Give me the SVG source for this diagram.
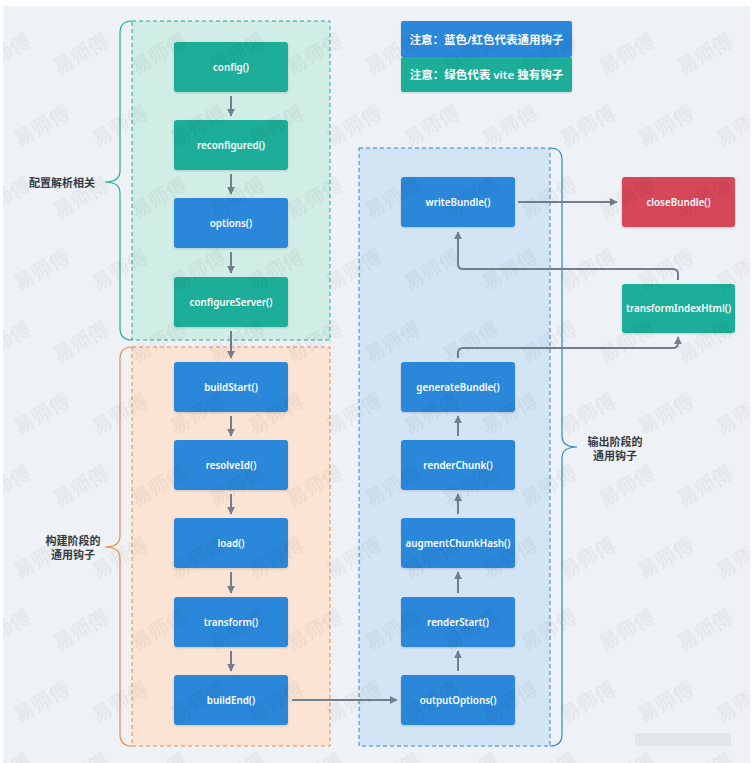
<svg xmlns="http://www.w3.org/2000/svg" width="755" height="763" viewBox="0 0 755 763">
<style>
.nt{font-family:"Noto Sans","Noto Sans CJK SC",sans-serif;font-size:9.8px;font-weight:600;fill:#ffffff;text-anchor:middle;dominant-baseline:central}
.lt{font-family:"Noto Sans","Noto Sans CJK SC",sans-serif;font-size:11.5px;font-weight:600;fill:#ffffff;text-anchor:middle;dominant-baseline:central}
.gt{font-family:"Noto Sans","Noto Sans CJK SC",sans-serif;font-size:11px;font-weight:600;fill:#333a42;text-anchor:middle;dominant-baseline:central}
.blue{fill:#2b87da}
.green{fill:#1aae99}
.red{fill:#d6475a}
.node{filter:url(#sh)}
.con{fill:none;stroke:#737f8c;stroke-width:2;marker-end:url(#ah)}
.wm{font-family:"Noto Sans CJK SC",sans-serif;font-size:20px;font-weight:700;fill:#000;fill-opacity:0.045;text-anchor:middle;dominant-baseline:central}
</style>
<defs>
<marker id="ah" viewBox="0 0 10 10" refX="9" refY="5" markerWidth="8" markerHeight="8" markerUnits="userSpaceOnUse" orient="auto">
<path d="M0,0 L10,5 L0,10 z" fill="#737f8c"/>
</marker>
<filter id="sh" x="-10%" y="-10%" width="120%" height="130%">
<feDropShadow dx="0" dy="1" stdDeviation="1" flood-color="#000" flood-opacity="0.15"/>
</filter>
<pattern id="wmp" patternUnits="userSpaceOnUse" x="567" y="377" width="78" height="144">
<text class="wm" transform="translate(20,36) rotate(-30)">易师傅</text>
<text class="wm" transform="translate(98,36) rotate(-30)">易师傅</text>
<text class="wm" transform="translate(-58,36) rotate(-30)">易师傅</text>
<text class="wm" transform="translate(59,108) rotate(-30)">易师傅</text>
<text class="wm" transform="translate(-19,108) rotate(-30)">易师傅</text>
<text class="wm" transform="translate(137,108) rotate(-30)">易师傅</text>
<text class="wm" transform="translate(59,-36) rotate(-30)">易师傅</text>
<text class="wm" transform="translate(-19,-36) rotate(-30)">易师傅</text>
<text class="wm" transform="translate(20,180) rotate(-30)">易师傅</text>
<text class="wm" transform="translate(98,180) rotate(-30)">易师傅</text>
</pattern>
</defs>

<rect x="0" y="0" width="755" height="763" fill="#ffffff"/>
<rect x="3" y="6" width="747" height="757" fill="#eef2f6"/>

<g id="groups">
<rect id="grp-config" x="132" y="21" width="198" height="319" fill="#d0ede6" stroke="#1aae99" stroke-width="1" stroke-dasharray="4,3"/>
<rect id="grp-build" x="132" y="347" width="198" height="399" fill="#fbe4d3" stroke="#ef8a3b" stroke-width="1" stroke-dasharray="4,3"/>
<rect id="grp-output" x="359" y="148" width="191" height="598" fill="#d3e5f5" stroke="#2b87da" stroke-width="1" stroke-dasharray="4,3"/>
</g>

<g id="braces" fill="none" stroke-width="1.2">
<path stroke="#1aae99" d="M132 21 Q120 21 120 33 V171 Q120 182 105 182 Q120 182 120 193 V328 Q120 340 132 340"/>
<path stroke="#ef8a3b" d="M132 347 Q120 347 120 359 V536 Q120 547 105 547 Q120 547 120 558 V734 Q120 746 132 746"/>
<path stroke="#2b87da" d="M550 148 Q562 148 562 160 V436 Q562 447 577 447 Q562 447 562 458 V734 Q562 746 550 746"/>
</g>

<g id="labels">
<text class="gt" x="62" y="182">配置解析相关</text>
<text class="gt" x="73" y="540">构建阶段的</text>
<text class="gt" x="73" y="554">通用钩子</text>
<text class="gt" x="615" y="441">输出阶段的</text>
<text class="gt" x="615" y="455">通用钩子</text>
</g>

<g id="legend">
<g id="legend-blue"><rect class="blue node" x="401" y="21" width="171" height="36" rx="2"/><text class="lt" x="486.5" y="39">注意：蓝色/红色代表通用钩子</text></g>
<g id="legend-green"><rect class="green node" x="401" y="57" width="171" height="35" rx="2"/><text class="lt" x="486.5" y="74.5">注意：绿色代表 vite 独有钩子</text></g>
</g>

<g id="connectors">
<path class="con" d="M231 96 V116"/>
<path class="con" d="M231 174 V194"/>
<path class="con" d="M231 252 V273"/>
<path class="con" d="M231 331 V358"/>
<path class="con" d="M231 416 V436"/>
<path class="con" d="M231 494 V514"/>
<path class="con" d="M231 572 V593"/>
<path class="con" d="M231 651 V671"/>
<path class="con" d="M292 700 H397"/>
<path class="con" d="M458 671 V651"/>
<path class="con" d="M458 593 V572"/>
<path class="con" d="M458 514 V494"/>
<path class="con" d="M458 436 V416"/>
<path class="con" d="M458 358 V353 Q458 348 463 348 H673 Q678 348 678 343 V337"/>
<path class="con" d="M678 280 V274 Q678 269 673 269 H463 Q458 269 458 264 V232"/>
<path class="con" d="M518 202 H617"/>
</g>

<g id="n-config"><rect class="green node" x="174" y="42" width="114" height="50" rx="3"/><text class="nt" x="231" y="67">config()</text></g>
<g id="n-reconfigured"><rect class="green node" x="174" y="120" width="114" height="50" rx="3"/><text class="nt" x="231" y="145">reconfigured()</text></g>
<g id="n-options"><rect class="blue node" x="174" y="198" width="114" height="50" rx="3"/><text class="nt" x="231" y="223">options()</text></g>
<g id="n-configureServer"><rect class="green node" x="174" y="277" width="114" height="50" rx="3"/><text class="nt" x="231" y="302">configureServer()</text></g>
<g id="n-buildStart"><rect class="blue node" x="174" y="362" width="114" height="50" rx="3"/><text class="nt" x="231" y="387">buildStart()</text></g>
<g id="n-resolveId"><rect class="blue node" x="174" y="440" width="114" height="50" rx="3"/><text class="nt" x="231" y="465">resolveId()</text></g>
<g id="n-load"><rect class="blue node" x="174" y="518" width="114" height="50" rx="3"/><text class="nt" x="231" y="543">load()</text></g>
<g id="n-transform"><rect class="blue node" x="174" y="597" width="114" height="50" rx="3"/><text class="nt" x="231" y="622">transform()</text></g>
<g id="n-buildEnd"><rect class="blue node" x="174" y="675" width="114" height="50" rx="3"/><text class="nt" x="231" y="700">buildEnd()</text></g>

<g id="n-writeBundle"><rect class="blue node" x="401" y="177" width="114" height="50" rx="3"/><text class="nt" x="458" y="202">writeBundle()</text></g>
<g id="n-generateBundle"><rect class="blue node" x="401" y="362" width="114" height="50" rx="3"/><text class="nt" x="458" y="387">generateBundle()</text></g>
<g id="n-renderChunk"><rect class="blue node" x="401" y="440" width="114" height="50" rx="3"/><text class="nt" x="458" y="465">renderChunk()</text></g>
<g id="n-augmentChunkHash"><rect class="blue node" x="401" y="518" width="114" height="50" rx="3"/><text class="nt" x="458" y="543">augmentChunkHash()</text></g>
<g id="n-renderStart"><rect class="blue node" x="401" y="597" width="114" height="50" rx="3"/><text class="nt" x="458" y="622">renderStart()</text></g>
<g id="n-outputOptions"><rect class="blue node" x="401" y="675" width="114" height="50" rx="3"/><text class="nt" x="458" y="700">outputOptions()</text></g>

<g id="n-closeBundle"><rect class="red node" x="622" y="177" width="113" height="50" rx="3"/><text class="nt" x="678.5" y="202">closeBundle()</text></g>
<g id="n-transformIndexHtml"><rect class="green node" x="622" y="284" width="113" height="49" rx="3"/><text class="nt" x="678.5" y="308.5">transformIndexHtml()</text></g>

<rect x="635" y="733" width="96" height="13" fill="#e2e5e9"/>
<rect x="3" y="6" width="747" height="757" fill="url(#wmp)" pointer-events="none"/>
</svg>
